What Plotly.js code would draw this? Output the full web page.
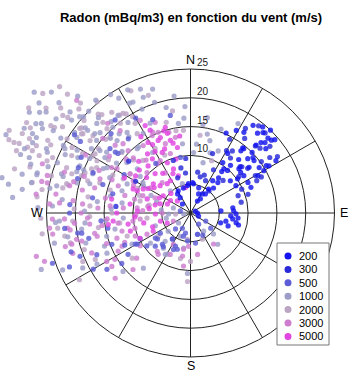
<!DOCTYPE html>
<html>
<head>
<meta charset="utf-8">
<script src="https://cdn.plot.ly/plotly-3.0.1.min.js"></script>
<style>html,body{margin:0;padding:0;background:#fff;}#chart{width:360px;height:378px;}</style>
</head>
<body>
<div id="chart"></div>
<script>
// Radon classes (mBq/m3)
const levels = ['200','300','500','1000','2000','3000','5000'];
const levelColors = ['#1414ee','#2a2ad8','#5c5cd6','#9c9cc9','#bca4c4','#cd7ccf','#e046e0'];

// wind direction (deg from N, clockwise) and wind speed (m/s), per class
const dir200 = [35.5,40,42,46,48,45,46.6,33.5,38.7,39,39.6,45.5,48.4,50.5,46.5,56.5,60,58,47.5,51,40,41,32.6,37,38.7,42,34.5,42.6,37,38,51,54,59,62,67,35,23,
  83,87,91,94,96,98,86,103,102,104,109,108,
  326,326,318,331,344,356,4,354,6,18,32,30,90,111,68,
  40,44,49.5,58.5,59,24,29,42,47,52,55,61,37,32,44,49];
const spd200 = [18.7,18.1,18.8,18.7,18.9,17.3,17.8,16.8,14.5,13.9,14.5,15,14.5,14.3,13.7,14.3,14.7,15.5,11.4,11.2,10.8,9.8,10.4,9.6,7.8,7.1,6.8,5.9,5.2,4.2,8.9,10.1,9.2,11.3,11.4,3,3.6,
  7.4,7.5,7.9,7,8.3,7.4,5.3,6.3,8.1,8.6,6.9,5.5,
  3.2,4,2.1,4.4,4.5,5.1,5.3,4.8,5.1,4.6,3.9,2.4,1.2,1.5,0.9,
  19.5,20,17.2,17.4,15.9,15.2,16.4,12.5,11.8,12.9,11.3,13.4,9,12.2,16.4,19.4];

const dir300 = [30,36,44,52,55,63,28,25,48,53,40,20,15,65,70,57,20.4,340,348,10,355,300,310,275,341.9,352.9,
  33,38,43,47,50,54,28,34,60,64,72,78,45,36];
const spd300 = [12.5,16,16.2,12.6,16.8,13.8,8.5,6.2,12,10.5,5,7,6.5,9.8,8.8,18,11,6.5,8,7.2,9.5,11,14,13,9.6,7,
  17.5,19.2,19,16.5,18,15.2,14.5,13,13,12.8,10.5,9,8,11.8];

const dir500 = [309,309.4,308.7,292.5,348.3,236,240,246,248.6,252,259.5,243,233,219,200,222,215,205,197,162,151,
  278.8,283.9,259.6,248.3,233.7,236.5,208,223.2,236.3,231.8,214.7,292,349.7,259.9,226.7,204.4,234.5,186,
  281.3,239.7,161.6,126.9,170.5,144,118,194,240.6,
  315,320,300,287,270,265,256,246,338,330,325,303,250,
  288,274,263,304,297,321,244];
const spd500 = [16.8,16.3,17.9,18.3,17.3,17.5,19.5,17.8,20.6,21.8,19.2,9.8,9.5,7.5,6.7,7.3,5.5,7,4.2,3.9,4.4,
  17.2,13.9,14.6,14.7,14.8,13,3,3.8,6.3,7.3,5.5,21,9.8,19.9,8.4,6.3,7.5,4.9,
  1.8,10.7,3.9,4.4,5.3,2.4,3,3.6,11,
  19.5,16.8,13.3,20.5,21,15.6,18.2,23,17.5,19,10.5,22.8,25.5,
  16,21,22,24.3,21.3,20.8,12.7];

const dir1000 = [307.7,310,303.7,308,301,299.7,296.7,296.1,294,291.2,294.1,297.1,303.6,308.8,304.8,309.7,289,290.7,284.7,286.9,293.1,280.8,280.6,284.9,291.9,298.4,296.2,
  337.8,332.6,323.4,313.7,325.4,335.8,352.3,329.3,321.8,317.8,311.6,307.7,314.6,304.6,302.9,320.4,353.4,308.4,298.5,309.7,293.6,302.6,344.6,
  281.5,286.2,294.7,272.9,278.4,266.5,264.6,261.6,265.7,258,254.5,257.5,241.9,244.3,241.3,249.3,
  229.1,220.5,209.3,191,217.6,211.4,182.9,
  317.7,286.4,262,267.4,230.2,230.7,233.1,221.8,203.5,144.2,132.4,138.9,
  5,12,18,8,3,15,356,272,
  300,305,311,316,298,293,288,303,309,313,306,299,295,290,286,318,321,312,304,297,292,300,306,310,283,279,287,302,315,319,
  333,338,343,328,
  288,282,277,271,266,259,254,249,246,243,276,280,284,278,275,289,293,297,301,305,311,316,312,320,326,331,335,342,347,352,357,322,328,306,300,294,288,276,258,250,265,273,
  10,20,24,14,28];
const spd1000 = [34.3,29.8,31.5,26.2,30.2,29.6,30.7,29.8,30,30.9,27.4,24.5,23.7,22.9,24.5,21.6,29.6,24.7,27.5,23.4,20.9,28.1,33.3,20.4,18.3,19.9,21.8,
  21.7,21.7,21.1,22.5,19.1,17.1,15.7,16.1,17.8,20.1,21,20.6,17.9,19.1,17.7,14.5,12.1,14.1,16.5,12,15.3,9.8,5.3,
  23.7,18.2,12.1,24,12,22.8,18.4,19.1,11.7,13.4,15.1,24.2,11.5,16.1,18.5,27.7,
  15.5,12.6,8.2,6.2,7.7,8.4,10.5,
  5.2,3.1,1.2,3.8,2.7,5,8.7,6.6,4.4,3.9,5.4,7.2,
  12,14,11,15.5,10.5,13,16.5,26.5,
  26,28.5,25.5,23,25,27,26,20.5,23.5,19,18,22.5,24,21,23,18.5,17,16,15.5,17,20,31,32.5,27.3,30,32,29,33,25,21,
  24,23.2,22.5,23.5,
  12.5,14.2,16.3,18.4,23.5,21.7,18.9,16,24.3,21,22.4,24.8,27.5,29.5,31,31.2,34.8,32.4,27.8,30.6,32,28.2,25,25.6,24.8,21.8,19.9,20.2,18.8,20.5,18.5,14.6,12.4,10.8,9.4,7.5,6.2,5.1,4.3,6.5,14.8,13.8,
  16.8,15.5,11.8,9,17.6];

const dir2000 = [314,307.4,307.9,298.9,302.2,294.5,295.3,294.8,291.8,292.1,293.6,289.7,291.5,306.4,307.4,305.8,290.8,291.9,290.1,288.3,290.9,284.1,283.3,287.4,299.2,298.9,295.8,
  340.3,322,325.9,316,328.3,355.1,326.1,315.3,308.4,313.2,301.8,311.4,331.3,317.9,295.8,296.9,
  281.1,288.4,274,270,266.1,263.5,259.6,250,245.8,232.2,192.5,180,182.5,234.3,
  266,263.4,283.5,186.6,155.2,350,262,
  301,308,313,296,290,285,299,304,311,317,322,327,294,289,281,306,309,302,298,292,315,320,303,296,305,
  286,279,272,268,261,256,251,244,239,283,279,286,292,297,303,309,314,318,324,329,334,345,350,336,313,303,295,289,281,262,276,268,300,306,311,
  7,22];
const spd2000 = [29.7,27.9,27,32.5,27.9,34.6,32.3,30.8,33,32.1,29.2,32.1,29.5,23.2,24.2,21.5,28.1,25.8,22.9,21.7,19.6,31.5,22.1,18.7,18.6,21.4,22.9,
  21.7,22.2,20.9,21.9,18.3,14.4,16.6,20.6,21.6,19.2,19.5,15.9,12.8,12.3,18.1,13.1,
  22.6,16.6,17.5,13.6,20.5,23.2,22.2,11.7,20.5,12.8,8.1,8.4,11.9,6.9,
  2.6,7.6,9,4.6,5,18,26,
  25,24,26.5,27,26.5,25,23.5,26.8,24.5,23.5,19.8,20.5,18.8,20,28,31,33,28.6,31.5,34,27,25.2,17,15,19.5,
  14.5,18,20.2,17.5,16.2,21.5,19.5,18.4,22.5,21.8,26.1,29,30.5,27.8,33.5,29,31.6,23,21,19.5,23.6,16.3,14.5,11,13.5,12.5,10.1,9.4,7.3,12.4,26.8,26,19.7,23.4,19.5,
  13.6,9.8];

const dir3000 = [314.7,288.4,284.7,282,
  317.3,331.5,338.7,338.2,333.7,319.5,310.4,315.8,315,325,340.1,348.7,341.3,314,326,301.1,312.9,328,290.7,299.3,317,
  281.9,282.7,284.7,290.6,273.7,274.4,274.8,273.1,274.3,275.4,267.5,267.3,267.2,263.7,263.9,263,265.9,262.1,262,255.2,254.7,261.3,257,251.1,255.3,255.5,244.1,251.1,242.2,235.8,251.7,
  254.3,229.1,225.5,238.5,221,208.7,218,206,191,190.5,170.3,143.4,187.5,
  302,293.2,270,244.8,244,247.3,263.2,183.5,277,
  270,276,280,285,289,295,300,305,262,258,250,246,268,273,279,284,290,296,303,310,320,330,335,345,255,265,275,285,293,240,237,230,248,256,262,278,282,288,299,312];
const spd3000 = [27.8,27.1,25.7,26.4,
  21.2,18.3,16.9,15.1,15,18.8,20,16.8,15.3,14.3,12.8,13.4,10.9,13.8,10.3,14.9,10.3,8.2,16.8,11.4,7.2,
  25.4,21.5,17.2,13.4,24.5,22.8,18.8,16.1,11.7,9.3,24,21.9,17.9,17.6,24.6,21.5,14.5,12.7,10.1,12.3,10,24.2,20.3,13.5,21.3,19.5,13.2,21.6,14.2,16.5,26.7,
  27.8,17.3,14,15.4,8.8,6.2,9.1,8,6.4,7.6,7.3,6.7,9.3,
  8.2,6.7,4.9,3.3,8.4,10.4,8.8,5.8,27,
  19,20.5,15,21,19.5,17.5,15.8,17.2,15.5,17,15.5,12.5,9.5,8.3,7.5,10,8.8,11,12.5,14.6,12,10.5,15.5,14.5,22.5,20.2,14,11.8,14.8,16.8,10.4,12.2,18.5,16.7,21.1,23.6,19.2,23,20.8,17.6];

const dir5000 = [332.6,343.6,343.8,338.2,329,336,344.5,335,348.7,324.9,335.3,318.1,338.9,342,308.1,328,348.7,
  292.8,278.5,259.9,253.3,264.1,
  292.5,297,312,321.6,302.2,288,291.4,312.7,268.4,255,246.5,244.1,243.4,
  296,300,305,309,287,283,276,272,266,258,250,318,324,330,338,346,352,342,334,327,315,310,270,262,280,
  302,315,325,336,345,331,304,298];
const spd5000 = [17.1,15.5,14.4,14.1,14.3,13.8,13.1,11.6,11.6,11.5,9.6,9.2,8.2,6.8,8.2,6.6,4.5,
  10.8,10.6,11,10.9,13.5,
  10,9.2,7.1,6.5,5.6,7.9,4.3,3.1,6.1,5.4,4.4,7.2,9.8,
  6,8.5,7.7,9.8,5.5,6.3,7.2,9.2,9.7,8.3,7,11,12.7,12.3,12,12.5,13.5,15,16,15.8,12.7,11.6,12.8,14.4,13.9,
  4.1,4.8,8.4,7.5,9.7,13.6,11.5,13];

// polar grid definition
const ringSpeeds = [5,10,15,20,25];
const ringLabels = ['','10','15','20','25'];
const spokeAngles = [0,30,60,90,120,150,180,210,240,270,300,330];
const compass = [['N',0],['E',90],['S',180],['W',270]];
const rMax = 25;

const dirs = [dir200,dir300,dir500,dir1000,dir2000,dir3000,dir5000];
const spds = [spd200,spd300,spd500,spd1000,spd2000,spd3000,spd5000];
const rad = d => d * Math.PI / 180;

// drawing order: light classes first, blue classes on top
const order = [4,3,5,2,6,1,0];
const traces = order.map(i => ({
  type: 'scatter', mode: 'markers', name: levels[i],
  x: dirs[i].map((d, k) => spds[i][k] * Math.sin(rad(d))),
  y: dirs[i].map((d, k) => spds[i][k] * Math.cos(rad(d))),
  cliponaxis: false,
  marker: {color: levelColors[i], size: 5.2, opacity: 0.82, line: {width: 0}},
  showlegend: false, hoverinfo: 'skip'
}));

const W = 360, H = 378;
const cx = 190.5, cy = 213, pxPerUnit = 5.76;  // plot geometry
const px = x => x / W, py = y => 1 - y / H;
const FONT = 'Liberation Sans, Arial, Helvetica, sans-serif';

const shapes = [];
const annotations = [];
// rings and spokes
ringSpeeds.forEach(r => shapes.push({type:'circle', xref:'x', yref:'y', x0:-r, x1:r, y0:-r, y1:r,
  line:{color:'#222', width:1}, layer:'below'}));
spokeAngles.forEach(a => shapes.push({type:'line', xref:'x', yref:'y', x0:0, y0:0,
  x1: rMax * Math.sin(rad(a)), y1: rMax * Math.cos(rad(a)), line:{color:'#222', width:1}, layer:'below'}));
// ring labels along the north spoke
ringSpeeds.forEach((r, k) => { if (ringLabels[k]) annotations.push({xref:'x', yref:'y', x: 0.95, y: r,
  xanchor:'left', yanchor:'bottom', text: ringLabels[k], showarrow:false, borderpad:0, yshift:0,
  font:{family:FONT, size:10, color:'#222'}}); });
// compass labels
compass.forEach(([t, a]) => {
  const o = {xref:'x', yref:'y', x: rMax * Math.sin(rad(a)), y: rMax * Math.cos(rad(a)), text: t, showarrow:false,
    borderpad:0, font:{family:FONT, size:12.5, color:'#000'}};
  if (a === 0) { o.yanchor = 'bottom'; o.xanchor = 'center'; o.yshift = 1; }
  if (a === 180) { o.yanchor = 'top'; o.xanchor = 'center'; o.yshift = -1; }
  if (a === 90) { o.xanchor = 'left'; o.yanchor = 'middle'; o.xshift = 4; }
  if (a === 270) { o.xanchor = 'right'; o.yanchor = 'middle'; o.xshift = -3; }
  annotations.push(o);
});

// legend (box + symbols + labels)
shapes.push({type:'rect', xref:'paper', yref:'paper', x0:px(277), x1:px(329), y0:py(345), y1:py(243),
  line:{color:'#777', width:1}, fillcolor:'#fff', layer:'above'});
levels.forEach((lv, k) => {
  const ly = 256 + k * 13.4;
  shapes.push({type:'circle', xref:'paper', yref:'paper', x0:px(284.5), x1:px(291.5), y0:py(ly+3.5), y1:py(ly-3.5),
    fillcolor: levelColors[k], line:{width:0}, layer:'above'});
  annotations.push({xref:'paper', yref:'paper', x:px(297), y:py(ly), xanchor:'left', yanchor:'middle',
    text: lv, showarrow:false, font:{family:FONT, size:11, color:'#000'}});
});

const layout = {
  width: W, height: H,
  margin: {l:0, r:0, t:0, b:0},
  paper_bgcolor: '#fff', plot_bgcolor: 'rgba(0,0,0,0)',
  title: {text: '<b>Radon (mBq/m3) en fonction du vent (m/s)</b>', x: 191/W, xanchor:'center', y: 1 - 17/H, yanchor:'middle',
    font: {family: FONT, size: 13, color:'#000'}},
  xaxis: {range: [-cx/pxPerUnit, (W-cx)/pxPerUnit], visible:false, fixedrange:true},
  yaxis: {range: [-(H-cy)/pxPerUnit, cy/pxPerUnit], visible:false, fixedrange:true},
  shapes: shapes,
  annotations: annotations,
  showlegend: false
};

Plotly.newPlot('chart', traces, layout, {displayModeBar:false, staticPlot:true});
</script>
</body>
</html>
